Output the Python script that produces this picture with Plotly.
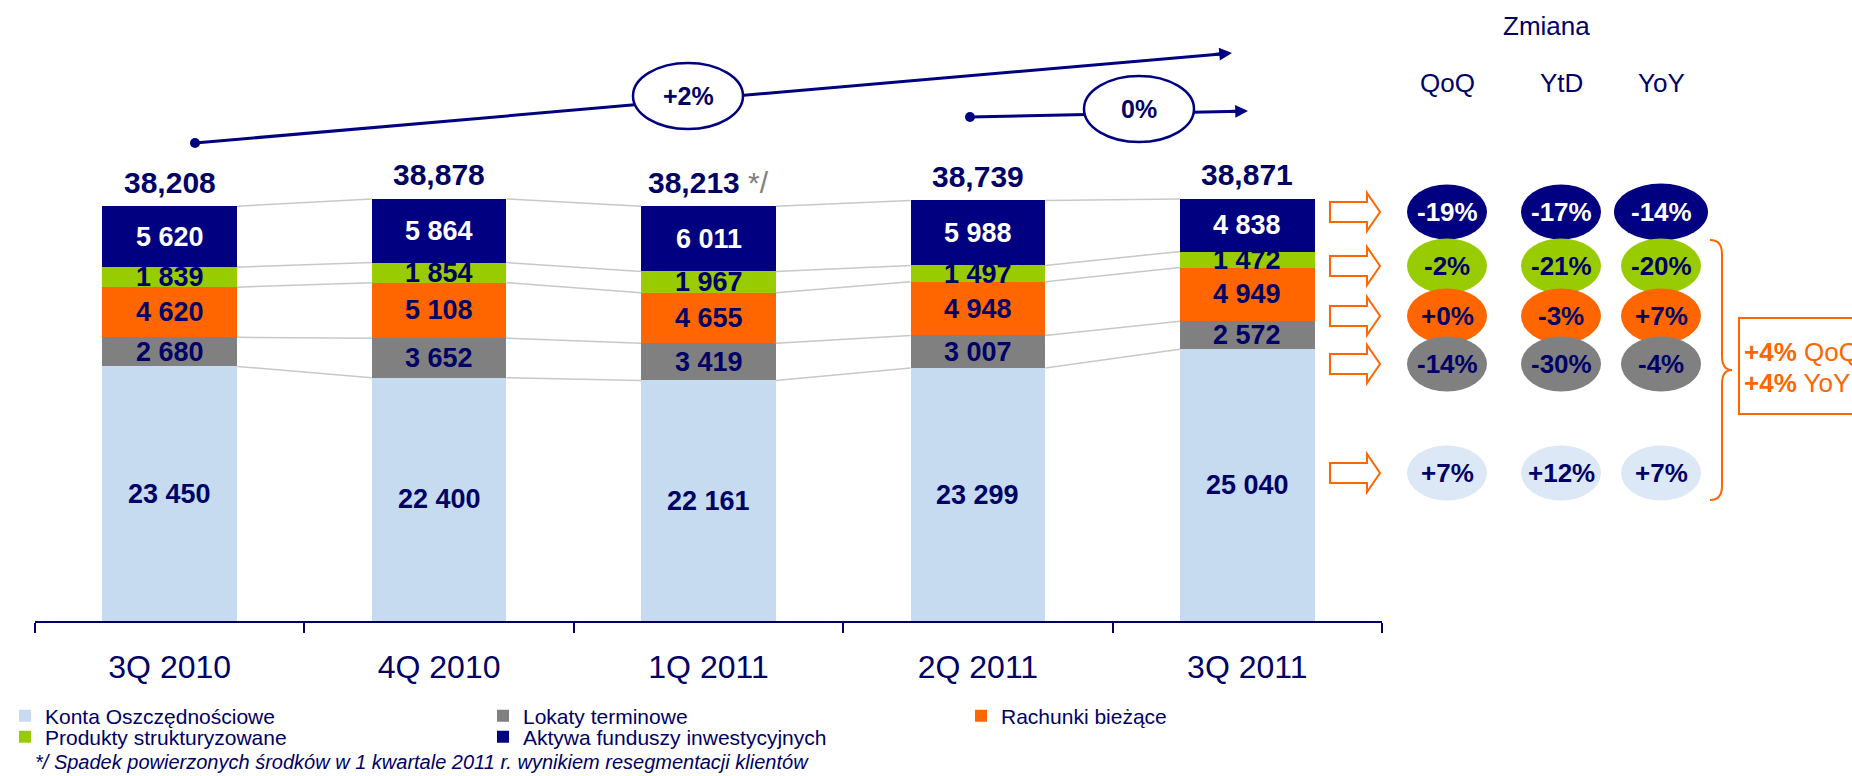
import plotly.graph_objects as go

# --- dane ---
quarters = ["3Q 2010", "4Q 2010", "1Q 2011", "2Q 2011", "3Q 2011"]
konta = [23450, 22400, 22161, 23299, 25040]
lokaty = [2680, 3652, 3419, 3007, 2572]
rachunki = [4620, 5108, 4655, 4948, 4949]
produkty = [1839, 1854, 1967, 1497, 1472]
aktywa = [5620, 5864, 6011, 5988, 4838]
totals = [38208, 38878, 38213, 38739, 38871]
footnote_bar = 2  # 1Q 2011 ma przypis */

series_names = ["Konta Oszczędnościowe", "Lokaty terminowe", "Rachunki bieżące",
                "Produkty strukturyzowane", "Aktywa funduszy inwestycyjnych"]

# zmiany (wiersze od góry: aktywa, produkty, rachunki, lokaty, konta)
change_cols = ["QoQ", "YtD", "YoY"]
qoq = ["-19%", "-2%", "+0%", "-14%", "+7%"]
ytd = ["-17%", "-21%", "-3%", "-30%", "+12%"]
yoy = ["-14%", "-20%", "+7%", "-4%", "+7%"]
growth_long = "+2%"   # 3Q 2010 -> 3Q 2011
growth_short = "0%"   # 2Q 2011 -> 3Q 2011
summary = [("+4%", "QoQ"), ("+4%", "YoY")]
footnote = "*/ Spadek powierzonych środków w 1 kwartale 2011 r. wynikiem resegmentacji klientów"

# --- style ---
NAVY = "#000080"
TXT = "#000066"
ORANGE = "#ff6600"
colors = ["#c6dbef", "#808080", "#ff6600", "#99cc00", "#000080"]
label_colors = [TXT, TXT, TXT, TXT, "white"]
bubble_colors = ["#000080", "#99cc00", "#ff6600", "#808080", "#dce8f5"]
bubble_text = ["white", TXT, TXT, TXT, TXT]
FONT = "Liberation Sans, Arial, sans-serif"

W, H = 1852, 776
BOTTOM = 621  # piksel osi x
BAR_W = 0.5


def px(x):
    return x / W


def py(y):
    return (BOTTOM - y) / BOTTOM


def note(x, y, text, size, color, xanchor="center", **font_extra):
    # adnotacja w pikselach obrazka
    return dict(x=px(x), y=py(y), xref="paper", yref="paper", xanchor=xanchor, yanchor="middle",
                showarrow=False, text=text, font=dict(size=size, color=color, family=FONT, **font_extra))


values = [konta, lokaty, rachunki, produkty, aktywa]
xs = list(range(len(quarters)))

fig = go.Figure()

# legenda: dwa wiersze
legends = ["legend", "legend", "legend", "legend2", "legend2"]
for name, vals, col, lg in zip(series_names, values, colors, legends):
    fig.add_trace(go.Bar(x=xs, y=vals, name=name, marker=dict(color=col, line=dict(width=0)),
                         legend=lg, hoverinfo="skip"))

# skumulowane wysokości
cum = []
run = [0] * len(xs)
for vals in values:
    run = [a + b for a, b in zip(run, vals)]
    cum.append(run)

# linie łączące słupki
for level in cum:
    lx, ly = [], []
    for i in range(len(xs) - 1):
        lx += [xs[i] + BAR_W / 2, xs[i + 1] - BAR_W / 2, None]
        ly += [level[i], level[i + 1], None]
    fig.add_trace(go.Scatter(x=lx, y=ly, mode="lines", line=dict(color="#c8c8c8", width=1.5),
                             showlegend=False, hoverinfo="skip"))

annotations = []
shapes = []

# etykiety segmentów
for j, vals in enumerate(values):
    base = [0] * len(xs) if j == 0 else cum[j - 1]
    for i, v in enumerate(vals):
        annotations.append(dict(x=xs[i], y=base[i] + v / 2, xref="x", yref="y", showarrow=False,
                                text="<b>" + f"{v:,}".replace(",", " ") + "</b>",
                                font=dict(size=27, color=label_colors[j], family=FONT)))

# sumy
for i, t in enumerate(totals):
    txt = "<b>" + f"{t:,}" + "</b>"
    if i == footnote_bar:
        txt += " <span style='color:#7f7f7f'>*/</span>"
    annotations.append(dict(x=xs[i], y=cum[-1][i], xref="x", yref="y", yshift=24, showarrow=False,
                            text=txt, font=dict(size=30, color=TXT, family=FONT)))


# strzałki u góry
def growth_arrow(x0, y0, x1, y1, cx, cy, label):
    dx, dy = x1 - x0, y1 - y0
    ln = (dx ** 2 + dy ** 2) ** 0.5
    ux, uy = dx / ln, dy / ln
    shapes.append(dict(type="line", xref="paper", yref="paper", x0=px(x0), y0=py(y0),
                       x1=px(x1 - 8 * ux), y1=py(y1 - 8 * uy), line=dict(color=NAVY, width=3)))
    shapes.append(dict(type="circle", xref="paper", yref="paper", x0=px(x0 - 5), x1=px(x0 + 5),
                       y0=py(y0 + 5), y1=py(y0 - 5), fillcolor=NAVY, line=dict(width=0)))
    shapes.append(dict(type="circle", xref="paper", yref="paper", x0=px(cx - 55), x1=px(cx + 55),
                       y0=py(cy + 33), y1=py(cy - 33), fillcolor="white",
                       line=dict(color=NAVY, width=2.5)))
    annotations.append(dict(x=px(x1), y=py(y1), xref="paper", yref="paper", text="",
                            showarrow=True, arrowhead=2, arrowsize=0.85, arrowwidth=3,
                            arrowcolor=NAVY, ax=-20 * ux, ay=-20 * uy, standoff=0))
    annotations.append(note(cx, cy, "<b>" + label + "</b>", 25, TXT))


growth_arrow(195, 143, 1232, 53, 688, 96, growth_long)
growth_arrow(970, 117, 1248, 111, 1139, 109, growth_short)

# prawa strona: nagłówki
annotations.append(note(1546, 26, "Zmiana", 26, TXT))
col_x = [1447, 1561, 1661]
for cx, c in zip(col_x, change_cols):
    annotations.append(note(cx, 83, c, 26, TXT))

row_y = [212, 266, 316, 364, 473]
for cy in row_y:
    path = "M{},{} L{},{} L{},{} L{},{} L{},{} L{},{} L{},{} Z".format(
        px(1330), py(cy - 10), px(1367), py(cy - 10), px(1367), py(cy - 19), px(1380), py(cy),
        px(1367), py(cy + 19), px(1367), py(cy + 10), px(1330), py(cy + 10))
    shapes.append(dict(type="path", xref="paper", yref="paper", path=path, fillcolor="white",
                       line=dict(color=ORANGE, width=2)))

for k, (cx, col_vals) in enumerate(zip(col_x, [qoq, ytd, yoy])):
    for r, (cy, val) in enumerate(zip(row_y, col_vals)):
        w, h = (94, 57) if (k == 2 and r == 0) else (80, 55)
        shapes.append(dict(type="circle", xref="paper", yref="paper", x0=px(cx - w / 2),
                           x1=px(cx + w / 2), y0=py(cy + h / 2), y1=py(cy - h / 2),
                           fillcolor=bubble_colors[r], line=dict(width=0)))
        annotations.append(note(cx, cy, "<b>" + val + "</b>", 26, bubble_text[r]))

# klamra i ramka podsumowania
brace = "M{},{} Q{},{} {},{} L{},{} Q{},{} {},{} Q{},{} {},{} L{},{} Q{},{} {},{}".format(
    px(1710), py(240), px(1722), py(240), px(1722), py(254),
    px(1722), py(356), px(1722), py(370), px(1732), py(370),
    px(1722), py(370), px(1722), py(384),
    px(1722), py(486), px(1722), py(500), px(1710), py(500))
shapes.append(dict(type="path", xref="paper", yref="paper", path=brace,
                   line=dict(color=ORANGE, width=2)))
shapes.append(dict(type="rect", xref="paper", yref="paper", x0=px(1739), x1=px(1880),
                   y0=py(414), y1=py(318), line=dict(color=ORANGE, width=2)))
for (pct, lab), cy in zip(summary, [352, 383]):
    annotations.append(note(1742, cy, "<b>" + pct + "</b> " + lab, 26, ORANGE, xanchor="left"))

# przypis
annotations.append(note(33, 762, footnote, 20, TXT, xanchor="left", style="italic"))

legend_style = dict(yanchor="middle", xanchor="left", bgcolor="rgba(0,0,0,0)", traceorder="normal",
                    orientation="h", entrywidth=433, entrywidthmode="pixels",
                    font=dict(size=21, color=TXT, family=FONT))

fig.update_layout(
    width=W, height=H,
    margin=dict(l=0, r=0, t=0, b=H - BOTTOM, autoexpand=False),
    barmode="stack", bargap=1 - BAR_W,
    plot_bgcolor="white", paper_bgcolor="white",
    font=dict(family=FONT, color=TXT),
    xaxis=dict(domain=[px(35), px(1382)], range=[-0.5, 4.5], tickvals=xs, ticktext=quarters,
               ticks="", showgrid=False, zeroline=False, showline=True, linecolor=TXT,
               linewidth=1.5, ticklabelstandoff=17,
               tickfont=dict(size=32, color=TXT, family=FONT),
               minor=dict(ticks="outside", tick0=-0.5, dtick=1, ticklen=10, tickwidth=1.5,
                          tickcolor=TXT, showgrid=False)),
    yaxis=dict(range=[0, 57200], visible=False, showgrid=False),
    legend=dict(x=px(5), y=py(716), **legend_style),
    legend2=dict(x=px(5), y=py(737), **legend_style),
    annotations=annotations,
    shapes=shapes,
    showlegend=True,
)

fig.write_html("out.html", config={"displayModeBar": False},
               post_script="document.body.style.margin='0';")
